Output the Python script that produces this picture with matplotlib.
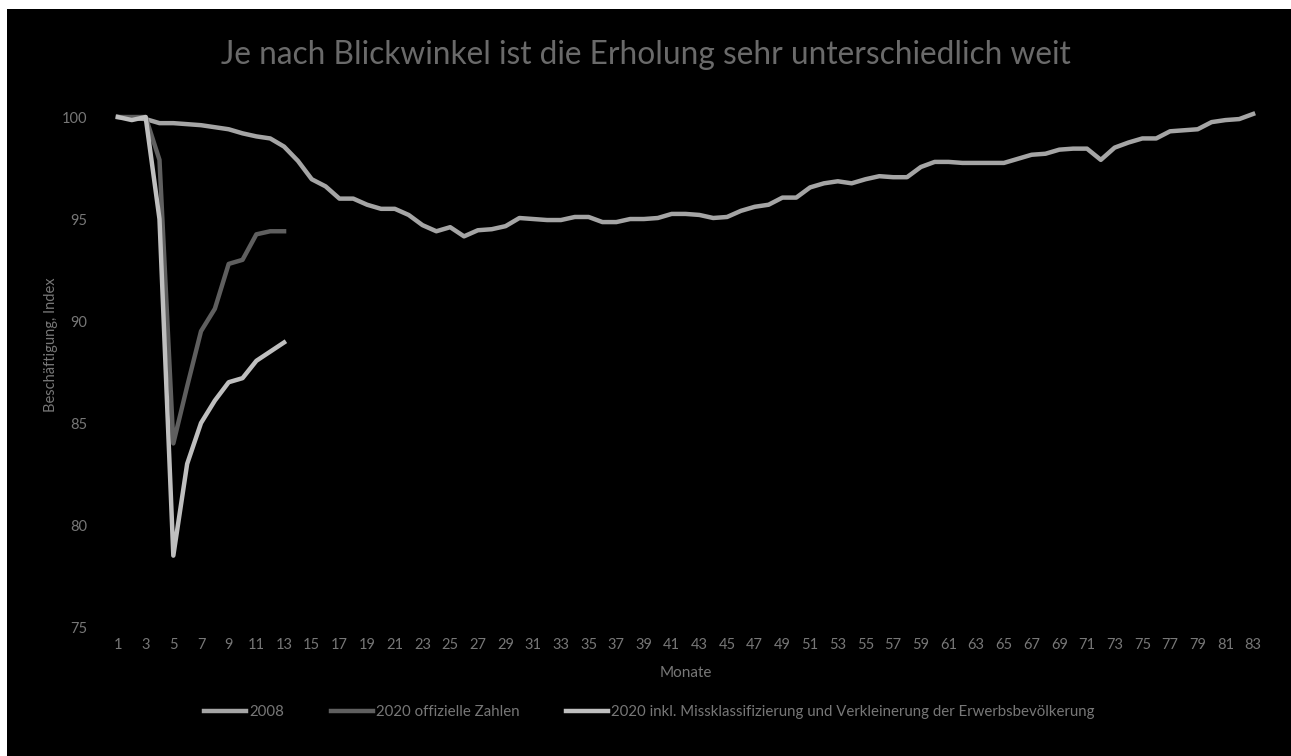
import numpy as np
import matplotlib
matplotlib.use("Agg")
import matplotlib.pyplot as plt
from matplotlib.patches import Rectangle

# values (index, month 1 = 100)
months = np.arange(1, 84)
tick_months = np.arange(1, 84, 2)

emp_2008 = [
    100.0, 99.95, 99.9, 99.7, 99.7, 99.65, 99.6, 99.5, 99.4, 99.2,
    99.05, 98.95, 98.55, 97.85, 96.95, 96.6, 96.0, 96.0, 95.7, 95.5,
    95.5, 95.2, 94.7, 94.4, 94.6, 94.15, 94.45, 94.5, 94.65, 95.05,
    95.0, 94.95, 94.95, 95.1, 95.1, 94.85, 94.85, 95.0, 95.0, 95.05,
    95.25, 95.25, 95.2, 95.05, 95.1, 95.4, 95.6, 95.7, 96.05, 96.05,
    96.55, 96.75, 96.85, 96.75, 96.95, 97.1, 97.05, 97.05, 97.55, 97.8,
    97.8, 97.75, 97.75, 97.75, 97.75, 97.95, 98.15, 98.2, 98.4, 98.45,
    98.45, 97.9, 98.5, 98.75, 98.95, 98.95, 99.3, 99.35, 99.4, 99.75,
    99.85, 99.9, 100.15,
]
emp_2020_official = [100.0, 100.0, 100.0, 97.9, 84.0, 86.8, 89.5, 90.6, 92.8, 93.0, 94.25, 94.4, 94.4]
emp_2020_adjusted = [100.0, 99.85, 100.0, 95.0, 78.5, 83.0, 85.0, 86.1, 87.0, 87.2, 88.05, 88.5, 88.95]

labels = [
    "2008",
    "2020 offizielle Zahlen",
    "2020 inkl. Missklassifizierung und Verkleinerung der Erwerbsbevölkerung",
]
colors = ["#a5a5a5", "#5f5f5f", "#bfbfbf"]
text_color = "#777777"

plt.rcParams["font.family"] = ["Lato", "DejaVu Sans"]

fig = plt.figure(figsize=(12.91, 7.56), dpi=100, facecolor="white")
# black chart area with the thin white strip on top and left
fig.patches.append(Rectangle((7 / 1291, 0), 1, 1 - 9 / 756, transform=fig.transFigure,
                             facecolor="black", edgecolor="none", zorder=-10))

ax = fig.add_axes([0.086, 0.1706, 0.890, 0.7016])
ax.patch.set_alpha(0)

ax.plot(months, emp_2008, color=colors[0], linewidth=3.2, label=labels[0])
ax.plot(months[:len(emp_2020_official)], emp_2020_official, color=colors[1], linewidth=3.2, label=labels[1])
ax.plot(months[:len(emp_2020_adjusted)], emp_2020_adjusted, color=colors[2], linewidth=3.2, label=labels[2])

ax.set_xlim(0.5, 83.5)
ax.set_ylim(75, 101)
ax.set_xticks(tick_months)
ax.set_xticklabels([str(m) for m in tick_months])
ax.set_yticks([75, 80, 85, 90, 95, 100])
ax.tick_params(axis="both", length=0, colors=text_color, labelsize=10.5)
ax.tick_params(axis="y", pad=17)
ax.tick_params(axis="x", pad=8)
for side in ax.spines.values():
    side.set_visible(False)

ax.set_xlabel("Monate", color=text_color, fontsize=11, labelpad=10)
ax.set_ylabel("Beschäftigung, Index", color=text_color, fontsize=10.5)
ax.yaxis.set_label_coords(-0.046, 0.532)

fig.text(0.5, 0.927, "Je nach Blickwinkel ist die Erholung sehr unterschiedlich weit",
         ha="center", va="center", color="#6a6a6a", fontsize=22.8)

leg = fig.legend(loc="center", bbox_to_anchor=(0.503, 0.058), ncol=3, frameon=False,
                 fontsize=10.8, handlelength=2.8, columnspacing=3.1, handletextpad=0.2)
for t in leg.get_texts():
    t.set_color(text_color)

fig.savefig("out.png", dpi=100, facecolor=fig.get_facecolor())
plt.close(fig)
